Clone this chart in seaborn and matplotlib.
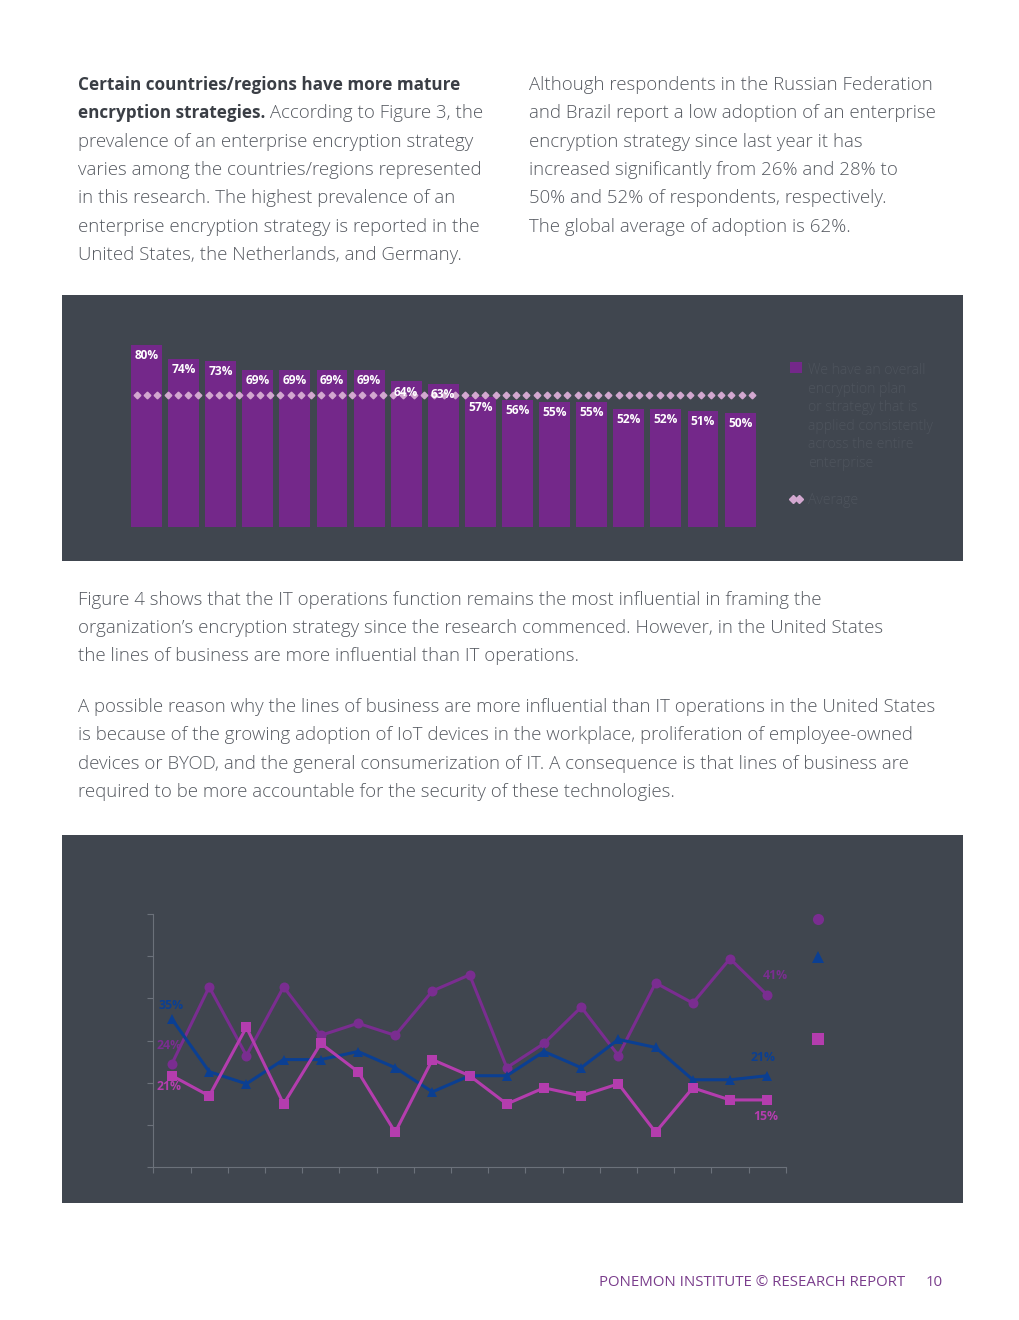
import numpy as np
import pandas as pd
import matplotlib
matplotlib.use('Agg')
import matplotlib.pyplot as plt
from matplotlib.lines import Line2D
from matplotlib.patches import Patch, Rectangle
import seaborn as sns

# ── Data ─────────────────────────────────────────────────────
# Figure 3 : enterprise encryption strategy by country/region (17 bars)
bar_pos    = list(range(17))
bar_values = [80, 74, 73, 69, 69, 69, 69, 64, 63, 57, 56, 55, 55, 52, 52, 51, 50]
avg_value  = 58          # position of dotted "Average" line as drawn

# Figure 4 : who is most influential (17 countries/regions)
line_pos    = list(range(17))
it_ops      = [24, 43, 26, 43, 31, 34, 31, 42, 46, 23, 29, 38, 26, 44, 39, 50, 41]
lines_biz   = [35, 22, 19, 25, 25, 27, 23, 17, 21, 21, 27, 23, 30, 28, 20, 20, 21]
security    = [21, 16, 33, 14, 29, 22, 7, 25, 21, 14, 18, 16, 19, 7, 18, 15, 15]

legend_bar_lines = ["We have an overall", "encryption plan", "or strategy that is",
                    "applied consistently", "across the entire", "enterprise"]

# ── Style ────────────────────────────────────────────────────
sns.set_style("white")
plt.rcParams['font.family'] = ['Open Sans', 'DejaVu Sans']

PANEL   = '#40464f'
BAR     = '#74288a'
AVG     = '#d3a8d0'
TEXT    = '#565a61'
HEAD    = '#3a3e45'
FAINT   = '#4e545d'
PURPLE  = '#7a2d90'
BLUE    = '#0b3f92'
PINK    = '#b43dae'
AXIS    = '#6b717a'
FOOT    = '#7a3d8c'

W, H = 1020, 1320
fig = plt.figure(figsize=(W / 100, H / 100), dpi=100)
fig.patch.set_facecolor('white')


def fx(px):
    return px / W


def fy(py):
    return 1 - py / H


# ── Dark panels ──────────────────────────────────────────────
for top, bot in [(295, 561), (835, 1203)]:
    fig.add_artist(Rectangle((fx(62), fy(bot)), fx(963 - 62), (bot - top) / H,
                             transform=fig.transFigure, facecolor=PANEL,
                             edgecolor='none', zorder=-10))

# ── Body text ────────────────────────────────────────────────
fs = 13.4
body = dict(fontsize=fs, color=TEXT, va='center', fontweight='light')
fig.text(fx(78), fy(85), "Certain countries/regions have more mature",
         fontsize=12.3, fontweight='bold', color=HEAD, va='center')
t2 = fig.text(fx(78), fy(113.3), "encryption strategies.",
              fontsize=12.3, fontweight='bold', color=HEAD, va='center')
renderer = fig.canvas.get_renderer()
bb = t2.get_window_extent(renderer)
fig.text(bb.x1 / W, fy(113.3), " According to Figure 3, the", **body)

left_lines = [
    "prevalence of an enterprise encryption strategy",
    "varies among the countries/regions represented",
    "in this research. The highest prevalence of an",
    "enterprise encryption strategy is reported in the",
    "United States, the Netherlands, and Germany.",
]
for i, line in enumerate(left_lines):
    fig.text(fx(78), fy(141.7 + 28.33 * i), line, **body)

right_lines = [
    "Although respondents in the Russian Federation",
    "and Brazil report a low adoption of an enterprise",
    "encryption strategy since last year it has",
    "increased significantly from 26% and 28% to",
    "50% and 52% of respondents, respectively.",
    "The global average of adoption is 62%.",
]
for i, line in enumerate(right_lines):
    fig.text(fx(529), fy(85 + 28.33 * i), line, **body)

mid_lines = [
    "Figure 4 shows that the IT operations function remains the most influential in framing the",
    "organization\u2019s encryption strategy since the research commenced. However, in the United States",
    "the lines of business are more influential than IT operations.",
]
for i, line in enumerate(mid_lines):
    fig.text(fx(78), fy(600 + 28.2 * i), line, **body)

mid_lines2 = [
    "A possible reason why the lines of business are more influential than IT operations in the United States",
    "is because of the growing adoption of IoT devices in the workplace, proliferation of employee-owned",
    "devices or BYOD, and the general consumerization of IT. A consequence is that lines of business are",
    "required to be more accountable for the security of these technologies.",
]
for i, line in enumerate(mid_lines2):
    fig.text(fx(78), fy(707 + 28.3 * i), line, **body)

fig.text(fx(905), fy(1282), "PONEMON INSTITUTE \u00a9 RESEARCH REPORT", fontsize=10.8,
         color=FOOT, ha='right', va='center')
fig.text(fx(943), fy(1282), "10", fontsize=10.8, color=FOOT, ha='right', va='center')

# ── Figure 3 : bar chart ─────────────────────────────────────
ax1 = fig.add_axes([fx(109.4), fy(527), fx(667.8), 227.5 / H])
ax1.set_facecolor('none')
df_bar = pd.DataFrame({'pos': bar_pos, 'value': bar_values})
sns.barplot(data=df_bar, x='pos', y='value', color=BAR, saturation=1,
            width=0.835, edgecolor='none', linewidth=0, ax=ax1)
avg_x = np.linspace(-0.26, 16.32, 61)
ax1.plot(avg_x, np.full_like(avg_x, avg_value), linestyle='none', marker='D',
         markersize=3.4, color=AVG, zorder=2.5)
for p, v in zip(bar_pos, bar_values):
    ax1.annotate(f"{v}%", (p, v), xytext=(0, -3), textcoords='offset points',
                 ha='center', va='top', fontsize=8.6, fontweight='bold', color='white',
                 zorder=4)
ax1.set_xlim(-1, 17)
ax1.set_ylim(0, 100)
ax1.axis('off')

leg1 = ax1.legend(handles=[Patch(facecolor=BAR, edgecolor='none')], labels=[''],
                  loc='center', bbox_to_anchor=(fx(796), fy(369)),
                  bbox_transform=fig.transFigure, frameon=False,
                  handlelength=0.8, handleheight=0.8, handletextpad=0, borderpad=0)
ax1.add_artist(leg1)
ax1.legend(handles=[Line2D([], [], linestyle='none', marker='D', markersize=3.6, color=AVG)],
           labels=[''], numpoints=2, loc='center', bbox_to_anchor=(fx(796), fy(500)),
           bbox_transform=fig.transFigure, frameon=False,
           handlelength=1.1, handletextpad=0, borderpad=0)
for i, line in enumerate(legend_bar_lines):
    fig.text(fx(808), fy(371 + 18.4 * i), line, fontsize=10.1, color=FAINT,
             va='center', fontweight='light')
fig.text(fx(808), fy(500), "Average", fontsize=10.1, color=FAINT, va='center',
         fontweight='light')

# ── Figure 4 : line chart ────────────────────────────────────
ax2 = fig.add_axes([fx(153.4), fy(1166.7), fx(632.4), (1166.7 - 914.3) / H])
ax2.set_facecolor('none')
series = [
    (it_ops,    PURPLE, 'o', 7.2),
    (lines_biz, BLUE,   '^', 7.8),
    (security,  PINK,   's', 7.8),
]
for vals, col, mk, ms in series:
    sns.lineplot(x=line_pos, y=vals, color=col, marker=mk, markersize=ms,
                 markeredgewidth=0, linewidth=2.2, ax=ax2)

lab = dict(fontsize=8.8, fontweight='bold', textcoords='offset points', va='center')
ax2.annotate("35%", (line_pos[0], lines_biz[0]), xytext=(-1, 10), ha='center', color=BLUE, **lab)
ax2.annotate("24%", (line_pos[0], it_ops[0]), xytext=(-2, 13), ha='center', color=PURPLE, **lab)
ax2.annotate("21%", (line_pos[0], security[0]), xytext=(-2, -8), ha='center', color=PINK, **lab)
ax2.annotate("41%", (line_pos[-1], it_ops[-1]), xytext=(6, 14), ha='center', color=PURPLE, **lab)
ax2.annotate("21%", (line_pos[-1], lines_biz[-1]), xytext=(-3, 13), ha='center', color=BLUE, **lab)
ax2.annotate("15%", (line_pos[-1], security[-1]), xytext=(-1, -12), ha='center', color=PINK, **lab)

ax2.set_xlim(-0.5, 16.5)
ax2.set_ylim(-1.54, 61.0)
ax2.set_xticks(np.arange(-0.5, 17, 1))
ax2.set_yticks(np.linspace(-1.54, 61.0, 7))
ax2.set_xticklabels([])
ax2.set_yticklabels([])
ax2.set_xlabel('')
ax2.set_ylabel('')
for side in ['top', 'right']:
    ax2.spines[side].set_visible(False)
for side in ['left', 'bottom']:
    ax2.spines[side].set_color(AXIS)
    ax2.spines[side].set_linewidth(0.8)
ax2.tick_params(axis='both', length=4, width=0.8, color=AXIS, direction='out',
                bottom=True, left=True)

leg_specs = [(PURPLE, 'o', 8.0, 920), (BLUE, '^', 9.0, 958), (PINK, 's', 8.2, 1040)]
for col, mk, ms, py in leg_specs:
    lg = ax2.legend(handles=[Line2D([], [], linestyle='none', marker=mk, markersize=ms,
                                    markeredgewidth=0, color=col)],
                    labels=[''], loc='center', bbox_to_anchor=(fx(818), fy(py)),
                    bbox_transform=fig.transFigure, frameon=False, numpoints=1,
                    handlelength=1, handletextpad=0, borderpad=0)
    ax2.add_artist(lg)

fig.savefig('out.png', dpi=100, facecolor='white')
